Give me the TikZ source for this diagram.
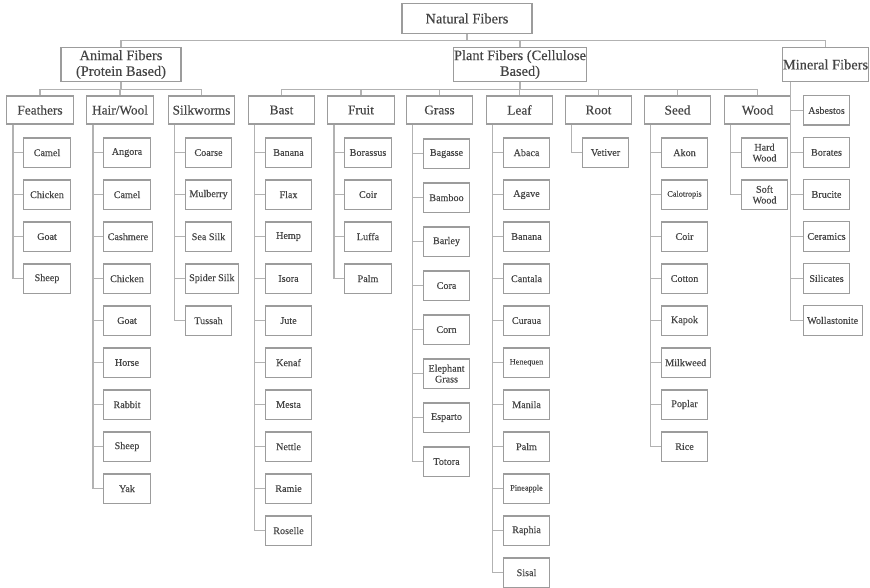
\documentclass[tikz,border=0pt]{standalone}
\usepackage{fontspec}
\setmainfont{Liberation Serif}[FakeBold=0.3]
\usetikzlibrary{calc,positioning}
\definecolor{boxgray}{HTML}{9C9C9C}
\definecolor{linegray}{HTML}{B2B2B2}
\definecolor{textgray}{HTML}{444444}
\newcommand{\smalltxt}{\fontsize{6.2}{6.8}\selectfont}
\tikzset{
  fib/.style={draw=boxgray, line width=0.9pt, text=textgray, align=center, inner sep=1pt},
  toplevel/.style={fib, font=\fontsize{10.8}{11.8}\selectfont, inner xsep=0.5pt, minimum height=26pt},
  cat/.style={fib, font=\fontsize{10}{11}\selectfont, minimum width=50pt, minimum height=21pt},
  item/.style={fib, font=\fontsize{7.6}{8.1}\selectfont, inner xsep=3pt, minimum width=35pt, minimum height=22pt, anchor=west},
  conn/.style={draw=linegray, line width=1.1pt}
}

\begin{document}
\begin{tikzpicture}[x=0.75pt, y=-0.75pt]
  \useasboundingbox (0,0) rectangle (870,588);
  % top levels
  \node[toplevel, minimum width=97.5pt, minimum height=22pt] (nat) at (467,18.5) {Natural Fibers};
  \node[toplevel, minimum width=90pt] (animal) at (121,64.5) {Animal Fibers\\(Protein Based)};
  \node[toplevel, minimum width=97.5pt] (plant) at (520,64.5) {Plant Fibers (Cellulose\\Based)};
  \node[toplevel, minimum width=65pt] (mineral) at (825.5,64.5) {Mineral Fibers};
  \foreach \n in {animal, plant, mineral}
    \draw[conn] (nat.south) -- ++(0,7) -| (\n.north);
  % categories
  \node[cat] (feath) at (40,110) {Feathers};
  \node[cat] (hair) at (120,110) {Hair/Wool};
  \node[cat] (silk) at (201.5,110) {Silkworms};
  \foreach \n in {feath, hair, silk}
    \draw[conn] (animal.south) -- ++(0,7) -| (\n.north);
  \foreach \n/\x/\t in {bast/281.5/Bast, fruit/361/Fruit, grass/439.5/Grass, leaf/519.5/Leaf,
                        root/598.5/Root, seed/677.5/Seed, wood/757.5/Wood} {
    \node[cat] (\n) at (\x,110) {\t};
    \draw[conn] (plant.south) -- ++(0,7) -| (\n.north);
  }
  % fibres under each category
  \foreach \c/\y/\dy/\list in {
      feath/28/42/{Camel,Chicken,Goat,Sheep},
      hair/28/42/{Angora,Camel,Cashmere,Chicken,Goat,Horse,Rabbit,Sheep,Yak},
      silk/28/42/{Coarse,Mulberry,Sea Silk,Spider Silk,Tussah},
      bast/28/42/{Banana,Flax,Hemp,Isora,Jute,Kenaf,Mesta,Nettle,Ramie,Roselle},
      fruit/28/42/{Borassus,Coir,Luffa,Palm},
      grass/29/44/{Bagasse,Bamboo,Barley,Cora,Corn,Elephant\\Grass,Esparto,Totora},
      leaf/28/42/{Abaca,Agave,Banana,Cantala,Curaua,{\smalltxt Henequen},Manila,Palm,{\smalltxt Pineapple},Raphia,Sisal},
      root/28/42/{Vetiver},
      seed/28/42/{Akon,{\smalltxt Calotropis},Coir,Cotton,Kapok,Milkweed,Poplar,Rice},
      wood/28/42/{Hard\\Wood,Soft\\Wood}} {
    \coordinate (\c-stem) at ($(\c.south west)+(7,0)$);
    \foreach \t [count=\i] in \list {
      \node[item] (\c-\i) at ($(\c.south west)+(17,{\y+\dy*(\i-1)})$) {\t};
      \draw[conn] (\c-stem) |- (\c-\i.west);
    }
  }
  % minerals
  \coordinate (mineral-stem) at ($(mineral.south west)+(9,0)$);
  \foreach \t [count=\i] in {Asbestos,Borates,Brucite,Ceramics,Silicates,Wollastonite} {
    \node[item] (mineral-\i) at ($(mineral.south west)+(21,{28+42*(\i-1)})$) {\t};
    \draw[conn] (mineral-stem) |- (mineral-\i.west);
  }
\end{tikzpicture}
\end{document}
